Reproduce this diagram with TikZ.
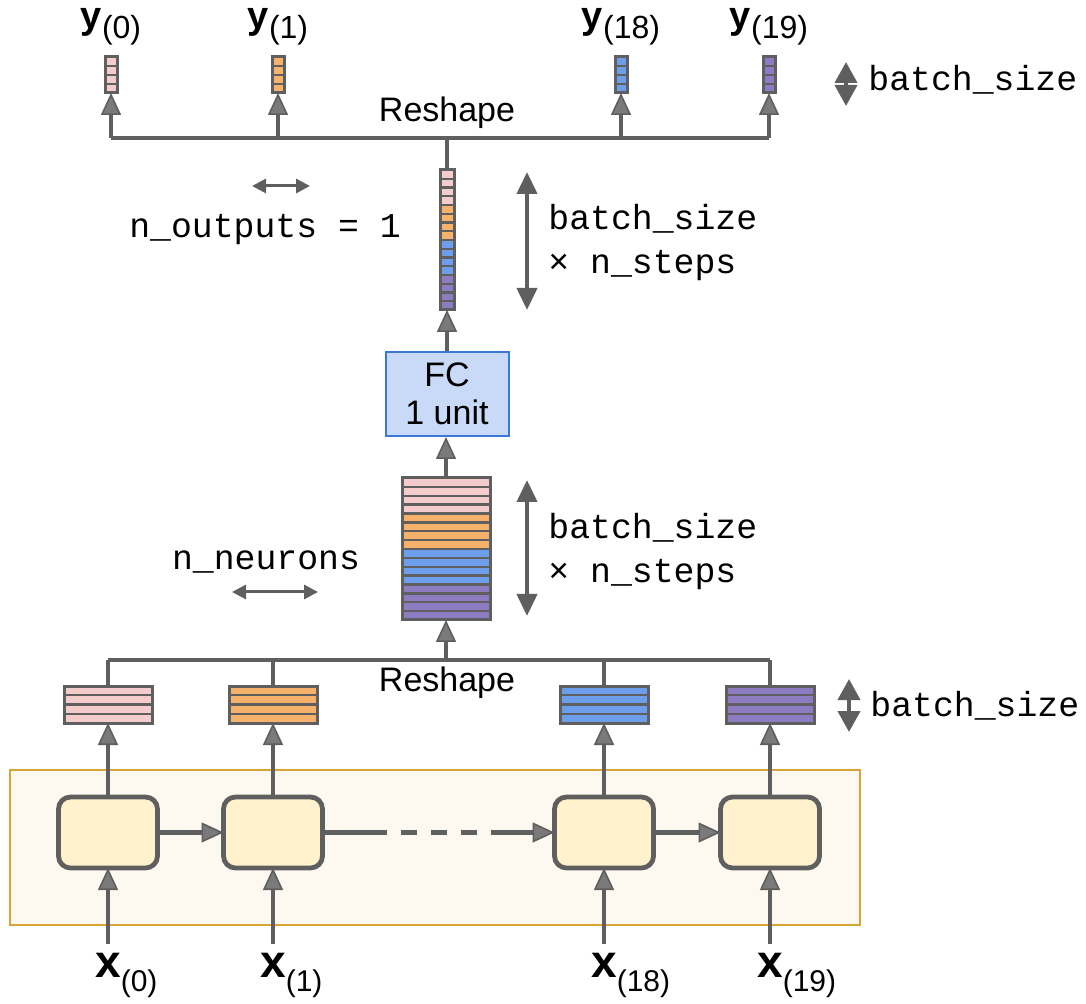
\documentclass[tikz,border=0pt]{standalone}
\usepackage{fontspec}
\setmainfont{Liberation Sans}
\setmonofont{Liberation Mono}
\usetikzlibrary{arrows.meta,positioning,calc}

\definecolor{edge}{HTML}{5F5F5F}
\definecolor{tipgray}{HTML}{7A7A7A}
\definecolor{pk}{HTML}{F4CCCC}
\definecolor{og}{HTML}{F6B26B}
\definecolor{bl}{HTML}{6D9EEB}
\definecolor{pu}{HTML}{8E7CC3}
\definecolor{cellfill}{HTML}{FFF2CC}
\definecolor{rnnfill}{HTML}{FEF9F0}
\definecolor{rnnedge}{HTML}{D6A536}
\definecolor{fcfill}{HTML}{C9DAF8}
\definecolor{fcedge}{HTML}{3C78D8}

% sequence labels
\newcommand{\ylab}[1]{\textbf{\fontsize{19}{19}\selectfont y}\raisebox{-5pt}{\fontsize{16}{16}\selectfont(#1)}}
\newcommand{\xlab}[1]{\textbf{\fontsize{23}{23}\selectfont x}\rlap{\raisebox{-7pt}{\fontsize{15}{15}\selectfont(#1)}}}

\tikzset{
  link/.style={draw=edge, line width=2.4pt},
  flow/.style={link, -{Triangle[length=11pt,width=10pt,line width=0.8pt,fill=tipgray]}},
  span/.style={draw=edge, line width=2pt, {Triangle[length=11pt,width=10pt]}-{Triangle[length=11pt,width=10pt]}},
  bsspan/.style={draw=edge, line width=2pt, {Triangle[length=10.5pt,width=11pt]}-{Triangle[length=10.5pt,width=11pt]}},
  smallspan/.style={draw=edge, line width=1.5pt, {Triangle[length=7pt,width=7pt]}-{Triangle[length=7pt,width=7pt]}},
  row/.style={draw=edge, line width=1.2pt},
  frame/.style={draw=edge, line width=1.5pt},
  anchorbox/.style={inner sep=0pt, outer sep=0pt},
  cell/.style={draw=edge, line width=2.4pt, fill=cellfill, rounded corners=6pt,
    minimum width=49.5pt, minimum height=35.5pt, inner sep=0pt, outer sep=0pt},
  mono/.style={font=\ttfamily\fontsize{17.4}{22}\selectfont, inner sep=0pt, align=left},
  caption/.style={font=\fontsize{17}{20}\selectfont, inner sep=0pt}
}

\begin{document}
\begin{tikzpicture}[x=0.5pt, y=-0.5pt]
  \useasboundingbox (0,0) rectangle (1086,1004);

  % recurrent layer
  \node[draw=rnnedge, line width=1pt, fill=rnnfill, minimum width=425pt, minimum height=77.5pt,
    anchorbox] (rnn) at (435,847.5) {};
  \foreach \i/\x/\t in {0/108/0, 1/273/1, 2/604/18, 3/770/19} {
    \node[cell] (c\i) at (\x,832.5) {};
    \node[anchor=base, inner sep=4pt] (xl\i) at (\x,977) {\xlab{\t}};
    \draw[flow] (xl\i.north) -- (c\i.south);
  }
  \draw[flow] (c0.east) -- (c1.west);
  \draw[flow] (c2.east) -- (c3.west);
  \coordinate (d1) at ($(c1.east)+(48,0)$);
  \coordinate (d2) at ($(c2.west)+(-58,0)$);
  \draw[link] (c1.east) -- (d1);
  \draw[link, dash pattern=on 8pt off 7pt] (d1) -- (d2);
  \draw[flow] (d2) -- (c2.west);

  % per-step outputs
  \foreach \i/\x/\c in {0/108/pk, 1/273/og, 2/604/bl, 3/770/pu} {
    \node[anchorbox, minimum width=44pt, minimum height=18.5pt] (h\i) at (\x,704.5) {};
    \foreach \k in {0,...,3}
      \draw[row, fill=\c] ($(h\i.north west)+(0,\k*9.25)$) rectangle ++(88,9.25);
    \draw[frame] (h\i.north west) rectangle (h\i.south east);
    \draw[flow] (c\i.north) -- (h\i.south);
    \coordinate (bl\i) at (h\i.north |- 0,660);
    \draw[link] (bl\i) -- (h\i.north);
  }
  \coordinate (bmid) at (446,660);
  \draw[link] (bl0) -- (bl3);
  \node[caption] (rs1) at (447,683) {Reshape};

  % stacked hidden states
  \node[anchorbox, minimum width=44pt, minimum height=71pt] (hid) at (446,549) {};
  \foreach \c [count=\k from 0] in {pk,pk,pk,pk,og,og,og,og,bl,bl,bl,bl,pu,pu,pu,pu}
    \draw[row, fill=\c] ($(hid.north west)+(0,\k*8.875)$) rectangle ++(88,8.875);
  \draw[frame] (hid.north west) rectangle (hid.south east);
  \draw[flow] (bmid) -- (hid.south);

  \draw[span] ([xshift=40.5pt,yshift=-1pt]hid.north) -- ([xshift=40.5pt,yshift=2pt]hid.south);
  \node[mono, anchor=west] (bs2) at (548,552) {batch\_size\\× n\_steps};
  \node[mono] (nn) at (266,562) {n\_neurons};
  \coordinate (nna) at (232,592);
  \coordinate (nnb) at (318,592);
  \draw[smallspan] (nna) -- (nnb);

  % dense layer
  \node[draw=fcedge, line width=1pt, fill=fcfill, minimum width=61.5pt, minimum height=42pt,
    align=center, font=\fontsize{17}{19}\selectfont] (fc) at (447,394) {FC\\1 unit};
  \draw[flow] (hid.north) -- (hid.north |- fc.south);

  % stacked outputs
  \node[anchorbox, minimum width=7pt, minimum height=70pt] (outv) at (447,240) {};
  \foreach \c [count=\k from 0] in {pk,pk,pk,pk,og,og,og,og,bl,bl,bl,bl,pu,pu,pu,pu}
    \draw[row, fill=\c] ($(outv.north west)+(0,\k*8.75)$) rectangle ++(14,8.75);
  \draw[frame] (outv.north west) rectangle (outv.south east);
  \draw[flow] (fc.north) -- (outv.south);

  \draw[span] ([xshift=40pt,yshift=-1pt]outv.north) -- (outv.south -| 527,0);
  \node[mono, anchor=west] (bs1) at (548,243) {batch\_size\\× n\_steps};
  \node[mono] (no) at (265,230) {n\_outputs = 1};
  \coordinate (noa) at (252,186);
  \coordinate (nob) at (310,186);
  \draw[smallspan] (noa) -- (nob);

  % reshaped sequence outputs
  \coordinate (tmid) at (447,138);
  \draw[link] (tmid) -- (outv.north);
  \foreach \i/\x/\c/\t in {0/111/pk/0, 1/278/og/1, 2/621/bl/18, 3/769/pu/19} {
    \node[anchorbox, minimum width=6pt, minimum height=18pt] (yv\i) at (\x,75) {};
    \foreach \k in {0,...,3}
      \draw[row, fill=\c] ($(yv\i.north west)+(0,\k*9)$) rectangle ++(12,9);
    \draw[frame] (yv\i.north west) rectangle (yv\i.south east);
    \coordinate (ty\i) at (\x,138);
    \draw[flow] (ty\i) -- (yv\i.south);
    \node[anchor=base, inner sep=0pt] (yl\i) at (\x,29) {\ylab{\t}};
  }
  \draw[link] (ty0) -- (ty3);
  \node[caption] (rs2) at (447,113) {Reshape};

  % batch size marks
  \coordinate (bta) at (846,62);
  \coordinate (btb) at (846,106);
  \draw[bsspan] (bta) -- (btb);
  \node[mono, anchor=west] (bs0) at (868,80) {batch\_size};
  \coordinate (bba) at (849,679);
  \coordinate (bbb) at (849,732);
  \draw[bsspan] (bba) -- (bbb);
  \node[mono, anchor=west] (bs3) at (870,706) {batch\_size};
\end{tikzpicture}
\end{document}
